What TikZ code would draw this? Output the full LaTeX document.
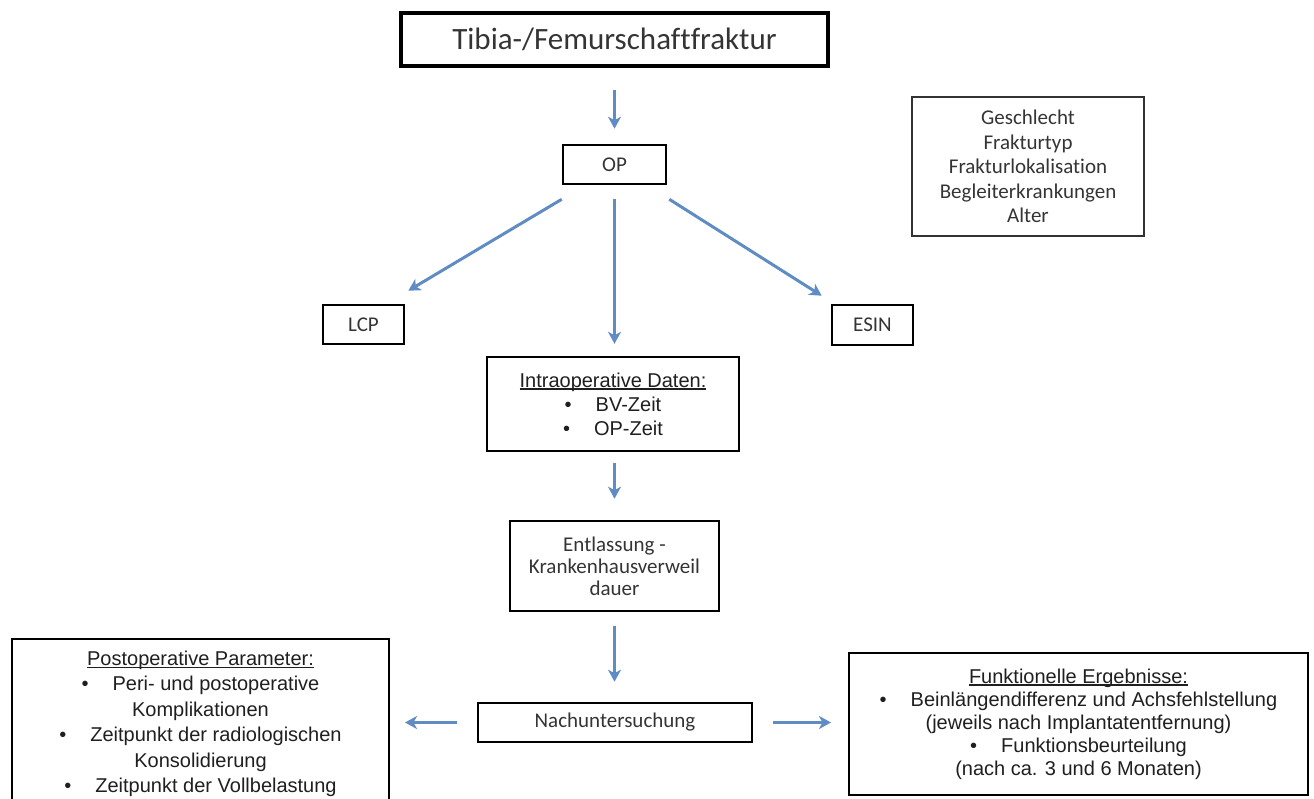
\documentclass[tikz,border=0pt]{standalone}
\usepackage{fontspec}
\usetikzlibrary{arrows.meta,positioning}
\newfontfamily\calibri{Carlito}[Ligatures=NoCommon]
\newfontfamily\arial{Liberation Sans}
\definecolor{flowblue}{RGB}{96,140,196}
\definecolor{labelgray}{RGB}{52,52,52}
\newcommand{\ulword}[1]{\leavevmode\setbox0\hbox{#1}\rlap{\rule[-2.5pt]{\wd0}{1.2pt}}\box0}
\tikzset{
  calbox/.style={draw=black, line width=2.6pt, inner sep=0pt, align=center, text=labelgray,
    font=\calibri\fontsize{21}{24}\selectfont},
  parambox/.style={draw=black, line width=2pt, inner sep=0pt, align=center, text=black!88,
    font=\arial\fontsize{20}{24}\selectfont},
  flow/.style={draw=flowblue, line width=3pt, -{Stealth[length=12pt,width=13pt,inset=3.5pt]}},
}
\begin{document}
\begin{tikzpicture}[x=1pt,y=-1pt]
\useasboundingbox (0,0) rectangle (1314,799);
% Draw boxes
\node[calbox, line width=3.4pt, minimum width=427pt, minimum height=53pt,
  font=\calibri\fontsize{31}{36}\selectfont] (fracture) at (614.5,39.5) {Tibia-/Femurschaftfraktur};
\node[calbox, minimum width=103pt, minimum height=39pt] (op) at (614.5,164.5) {OP};
\node[calbox, draw=black!80, line width=2pt, minimum width=232pt, minimum height=139pt,
  font=\calibri\fontsize{21}{24.5}\selectfont] (factors) at (1028,166.5)
  {Geschlecht\\Frakturtyp\\Frakturlokalisation\\Begleiterkrankungen\\Alter};
\node[calbox, minimum width=81pt, minimum height=39pt] (lcp) at (363.5,324.5) {LCP};
\node[calbox, minimum width=81pt, minimum height=40pt] (esin) at (872.5,325) {ESIN};
\node[parambox, line width=2.4pt, minimum width=252pt, minimum height=94pt] (intraop) at (613,404)
  {\ulword{Intraoperative Daten:}\\\textbullet\hspace{1.2em}BV-Zeit\\\textbullet\hspace{1.2em}OP-Zeit};
\node[calbox, minimum width=209pt, minimum height=90pt,
  font=\calibri\fontsize{21}{22}\selectfont] (discharge) at (614.5,566)
  {Entlassung -\\Krankenhausverweil\\dauer};
\node[calbox, minimum width=274pt, minimum height=39pt] (followup) at (615,722.5) {Nachuntersuchung};
\node[parambox, anchor=north west, minimum width=377pt, inner xsep=8pt, inner ysep=12pt,
  font=\arial\fontsize{20}{25.5}\selectfont] (postop) at (11,638)
  {\begin{minipage}[t][170pt][t]{360pt}\centering
  \ulword{Postoperative Parameter:}\\
  \textbullet\hspace{1.2em}Peri- und postoperative\\
  Komplikationen\\
  \textbullet\hspace{1.2em}Zeitpunkt der radiologischen\\
  Konsolidierung\\
  \textbullet\hspace{1.2em}Zeitpunkt der Vollbelastung
  \end{minipage}};
\node[parambox, minimum width=459pt, minimum height=142pt,
  font=\arial\fontsize{20}{23}\selectfont] (results) at (1078.5,724)
  {\ulword{Funktionelle Ergebnisse:}\\
  \textbullet\hspace{1.2em}Beinlängendifferenz und Achsfehlstellung\\
  (jeweils nach Implantatentfernung)\\
  \textbullet\hspace{1.2em}Funktionsbeurteilung\\
  (nach ca. 3 und 6 Monaten)};
% Draw arrows
\draw[flow, shorten <=22pt, shorten >=15pt] (fracture) -- (op);
\draw[flow] ([yshift=-14pt]op.south west) -- ([xshift=3pt,yshift=13pt]lcp.north east);
\draw[flow, shorten <=14pt, shorten >=12pt] (op.south) -- (op.south |- intraop.north);
\draw[flow] ([xshift=2pt,yshift=-14pt]op.south east) -- ([xshift=-9pt,yshift=8pt]esin.north west);
\draw[flow, shorten <=11pt, shorten >=21pt] (discharge.north |- intraop.south) -- (discharge.north);
\draw[flow, shorten <=14pt, shorten >=20pt] (discharge.south) -- (discharge.south |- followup.north);
\draw[flow, shorten <=20pt, shorten >=15pt] (followup.west) -- (followup.west -| postop.east);
\draw[flow, shorten <=20pt, shorten >=17pt] (followup.east) -- (followup.east -| results.west);
\end{tikzpicture}
\end{document}
